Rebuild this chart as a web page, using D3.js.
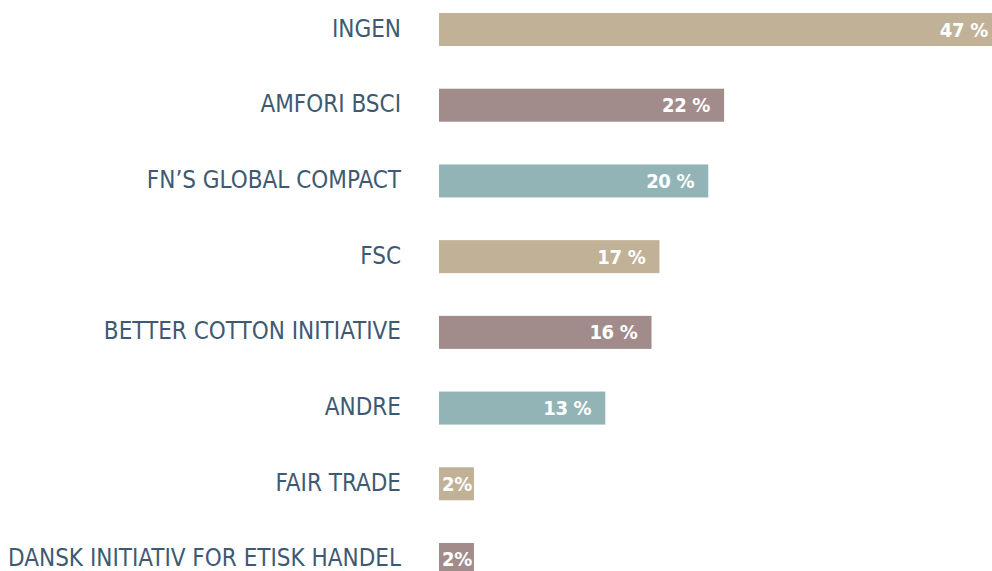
<!DOCTYPE html>
<html>
<head>
<meta charset="utf-8">
<script src="https://cdn.jsdelivr.net/npm/d3@7"></script>
<style>
  body { margin: 0; background: #fff; }
  svg { display: block; overflow: hidden; }
  .cat-label { font-family: "Liberation Sans Narrow", "DejaVu Sans Condensed", sans-serif; font-size: 24px; fill: #3e5a73; }
  .val-label { font-family: "Liberation Sans Narrow", "DejaVu Sans Condensed", sans-serif; font-size: 20px; font-weight: bold; fill: #fff; letter-spacing: -0.3px; }
</style>
</head>
<body>
<div id="chart"></div>
<script>
// Data
const categories = [
  "INGEN",
  "AMFORI BSCI",
  "FN\u2019S GLOBAL COMPACT",
  "FSC",
  "BETTER COTTON INITIATIVE",
  "ANDRE",
  "FAIR TRADE",
  "DANSK INITIATIV FOR ETISK HANDEL"
];
// shares in percent (shown rounded)
const shares = [47, 21.6, 20.4, 16.7, 16.1, 12.6, 2.0, 2.0];
const barColors = ["#c1b196", "#a18c8b", "#93b4b7"];

const width = 992, height = 571;
const barLeft = 439;

const svg = d3.select("#chart")
  .append("svg")
  .attr("width", width)
  .attr("height", height);

// Scales
const x = d3.scaleLinear()
  .domain([0, 50])
  .range([0, 660]);

const y = d3.scaleBand()
  .domain(categories)
  .range([13, 576])
  .paddingInner(0.564)
  .paddingOuter(0);

const rows = svg.selectAll(".row")
  .data(categories.map((c, i) => ({ cat: c, value: shares[i], i })))
  .enter()
  .append("g")
  .attr("class", "row")
  .attr("transform", d => `translate(0,${y(d.cat)})`);

// Category labels
rows.append("text")
  .attr("class", "cat-label")
  .attr("x", 401)
  .attr("y", y.bandwidth() / 2 + 7)
  .attr("text-anchor", "end")
  .text(d => d.cat);

// Bars (width set after measuring the value label)
const bars = rows.append("rect")
  .attr("x", barLeft)
  .attr("y", 0)
  .attr("height", y.bandwidth())
  .attr("fill", d => barColors[d.i % 3]);

const vals = rows.append("text")
  .attr("class", "val-label")
  .attr("y", y.bandwidth() / 2 + 7)
  .attr("text-anchor", "end")
  .text(d => Math.round(d.value) + (d.value < 5 ? "%" : " %"));

vals.each(function(d) {
  const len = this.getComputedTextLength();
  const w = Math.max(x(d.value), len + 5);
  d.w = w;
  const end = barLeft + w;
  const pad = x(d.value) > len + 5 ? 14 : 2;
  d3.select(this).attr("x", Math.min(end - pad, width - 4));
});

bars.attr("width", d => d.w);
</script>
</body>
</html>
